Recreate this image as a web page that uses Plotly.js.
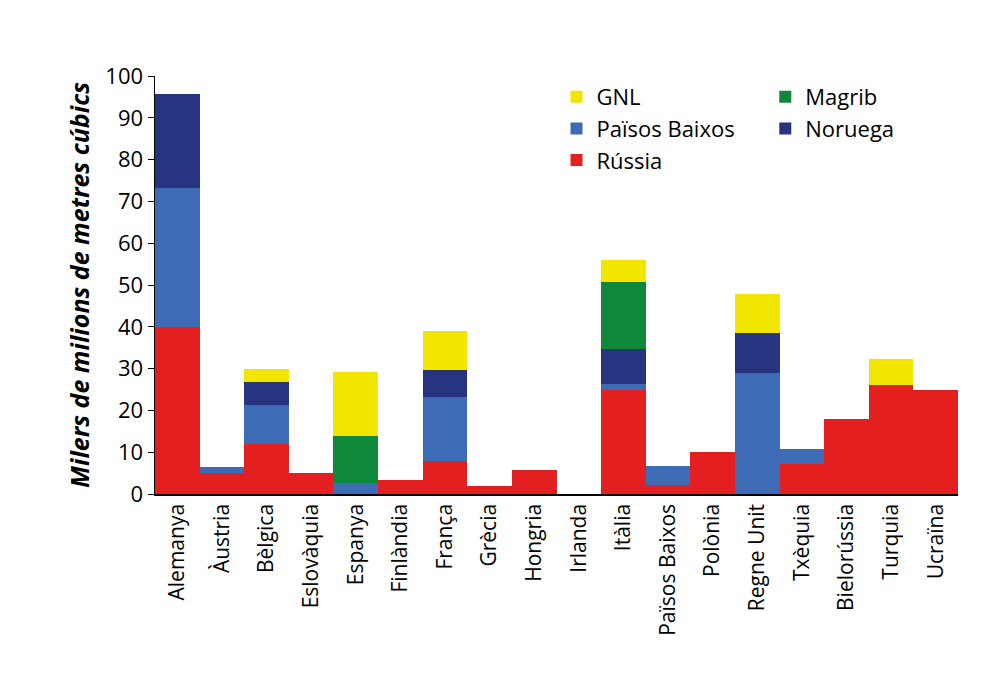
<!DOCTYPE html>
<html><head><meta charset="utf-8">
<script src="https://cdn.plot.ly/plotly-3.0.1.min.js"></script>
<style>body{margin:0;background:#fff}</style></head>
<body><div id="c" style="width:1001px;height:699px"></div>
<script>
const countries=["Alemanya","Àustria","Bèlgica","Eslovàquia","Espanya","Finlàndia","França","Grècia","Hongria","Irlanda","Itàlia","Països Baixos","Polònia","Regne Unit","Txèquia","Bielorússia","Turquia","Ucraïna"];
const russia=[40,5,12,5,0,3.4,8,2,5.7,0,25,2.2,10,0,7.2,18,26,25];
const paisosBaixos=[33.3,1.5,9.3,0,2.6,0,15.1,0,0,0,1.2,4.5,0,29,3.6,0,0,0];
const noruega=[22.4,0,5.5,0,0,0,6.5,0,0,0,8.4,0,0,9.5,0,0,0,0];
const magrib=[0,0,0,0,11.3,0,0,0,0,0,16,0,0,0,0,0,0,0];
const gnl=[0,0,3,0,15.3,0,9.3,0,0,0,5.5,0,0,9.3,0,0,6.2,0];
const f="Open Sans, sans-serif";
function tr(name,y,color,legend,rank){return {type:"bar",name,x:countries,y,marker:{color,line:{width:0}},legend,legendrank:rank,hoverinfo:"y"};}
const data=[tr("Rússia",russia,"#e3201f","legend",3),tr("Països Baixos",paisosBaixos,"#3d6bb5","legend",2),tr("Noruega",noruega,"#27347f","legend2",2),tr("Magrib",magrib,"#10883a","legend2",1),tr("GNL",gnl,"#f2e600","legend",1)];
const lg={yanchor:"top",xanchor:"left",y:1.0,bgcolor:"rgba(0,0,0,0)",font:{size:22},tracegroupgap:0,itemwidth:30,traceorder:"normal"};
const layout={barmode:"stack",bargap:0,width:1001,height:699,margin:{l:155,r:43,t:76,b:205},
paper_bgcolor:"#fff",plot_bgcolor:"#fff",font:{family:f,size:21,color:"#000"},
xaxis:{showline:true,linecolor:"#000",linewidth:1.5,ticks:"",tickangle:-90,tickfont:{size:21},range:[-0.5,17.5]},
yaxis:{range:[0,100],dtick:10,showline:true,linecolor:"#000",linewidth:1.5,ticks:"outside",ticklen:6,tickcolor:"#000",showgrid:false,zeroline:false,tickfont:{size:22},
title:{text:"<b><i>Milers de milions de metres cúbics</i></b>",font:{size:25},standoff:8}},
legend:Object.assign({},lg,{x:0.5}),
legend2:Object.assign({},lg,{x:0.76}),
showlegend:true};
Plotly.newPlot("c",data,layout,{staticPlot:true});
</script></body></html>
